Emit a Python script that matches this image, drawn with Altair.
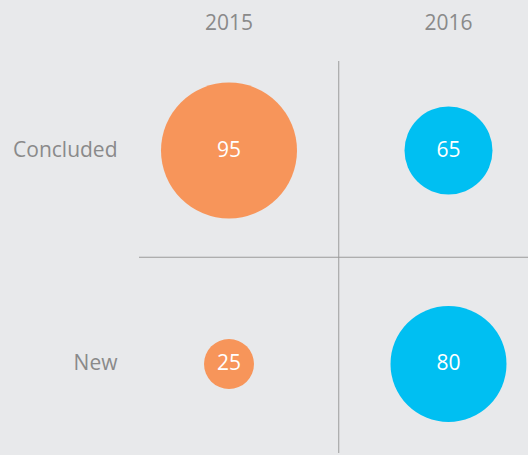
import altair as alt
import pandas as pd

years = ["2015", "2016"]
statuses = ["Concluded", "New"]
values_2015 = [95, 25]
values_2016 = [65, 80]
colors = ["#F7955A", "#00BFF2"]
BG = "#E8E9EB"

rows = []
for s, v in zip(statuses, values_2015):
    rows.append({"year": "2015", "status": s, "value": v})
for s, v in zip(statuses, values_2016):
    rows.append({"year": "2016", "status": s, "value": v})
df = pd.DataFrame(rows)

# page background in the same grey as the chart, no page margin
patched = False
try:
    import altair.utils.html as _ah
    _orig = _ah.TEMPLATES["standard"]

    class _Wrapped:
        def render(self, *a, **kw):
            html = _orig.render(*a, **kw)
            style = ("<style>html,body{background:%s;margin:0;padding:0;overflow:hidden;}"
                     ".vega-embed svg{display:block;}</style>" % BG)
            if "</head>" in html:
                return html.replace("</head>", style + "</head>", 1)
            return style + html

    _ah.TEMPLATES["standard"] = _Wrapped()
    patched = True
except Exception:
    patched = False

M = 0 if patched else 8  # page margin

FONT = "Open Sans"
LABEL_COLOR = "#8a8a8a"

x_axis = alt.Axis(orient="top", domain=False, ticks=False, tickSize=0, grid=False,
                  labelFont=FONT, labelFontSize=21, labelColor=LABEL_COLOR,
                  labelPadding=32, labelBaseline="alphabetic", title=None, labelAngle=0)
y_axis = alt.Axis(orient="left", domain=False, ticks=False, tickSize=0, grid=False,
                  labelFont=FONT, labelFontSize=21, labelColor=LABEL_COLOR,
                  labelPadding=22, labelAlign="right", labelBaseline="middle", title=None)

x_scale = alt.Scale(type="band", domain=years, paddingInner=0, paddingOuter=0,
                    range=[-19.75, 419.25])
y_scale = alt.Scale(type="band", domain=statuses, paddingInner=0, paddingOuter=0,
                    range=[-17.25, 409.75])

base = alt.Chart(df).encode(
    x=alt.X("year:N", scale=x_scale, axis=x_axis),
    y=alt.Y("status:N", scale=y_scale, axis=y_axis),
)

circles = base.mark_circle(opacity=1).encode(
    size=alt.Size("value:Q", scale=alt.Scale(type="linear", domain=[25, 65, 80, 95],
                                              range=[2500, 7744, 13456, 18496]), legend=None),
    color=alt.Color("year:N", scale=alt.Scale(domain=years, range=colors), legend=None),
)

labels = base.mark_text(font=FONT, fontSize=21, color="white", align="center",
                        baseline="middle").encode(text="value:Q")

vrule = alt.Chart(pd.DataFrame({"year": ["2016"]})).mark_rule(
    color="#9b9b9b", strokeWidth=1).encode(
    x=alt.X("year:N", scale=x_scale, axis=x_axis, bandPosition=0)
)
hrule = alt.Chart(pd.DataFrame({"status": ["New"]})).mark_rule(
    color="#9b9b9b", strokeWidth=1).encode(
    y=alt.Y("status:N", scale=y_scale, axis=y_axis, bandPosition=0)
)

PL = 139 - M
PT = 61 - M
W = (528 - 2 * M) - PL
H = (453 - 2 * M) - PT

chart = alt.layer(vrule, hrule, circles, labels).properties(
    width=W, height=H,
    background=BG,
    padding={"left": PL, "top": PT, "right": 0, "bottom": 0},
    autosize=alt.AutoSizeParams(type="none"),
).configure_view(stroke=None)

chart.save("out.html", embed_options={"renderer": "svg", "actions": False})
